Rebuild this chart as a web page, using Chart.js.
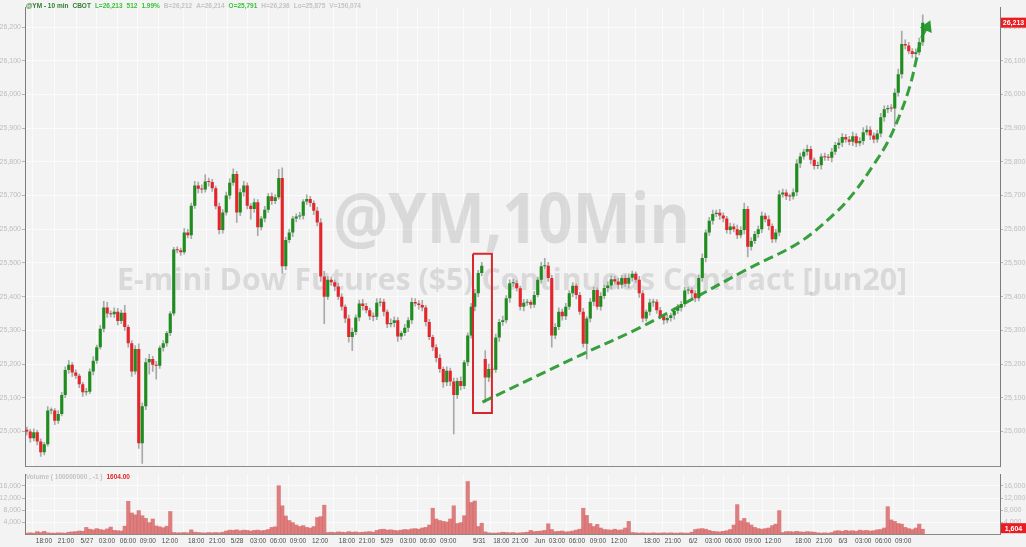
<!DOCTYPE html>
<html>
<head>
<meta charset="utf-8">
<script src="https://cdn.jsdelivr.net/npm/chart.js@4.4.1/dist/chart.umd.min.js"></script>
<style>
  html, body { margin: 0; padding: 0; background: #f3f3f3; }
  #wrap { position: relative; width: 1026px; height: 547px; overflow: hidden; background: #f3f3f3;
          font-family: "Liberation Sans", Arial, sans-serif; }
  #price { position: absolute; left: 0; top: 0; }
  #volume { position: absolute; left: 0; top: 474px; }
  .row { position: absolute; left: 26px; font-size: 6.5px; font-weight: bold; white-space: nowrap;
         line-height: 8px; }
  .row span { margin-right: 4px; }
</style>
</head>
<body>
<div id="wrap">
  <canvas id="price" width="1026" height="474"></canvas>
  <canvas id="volume" width="1026" height="73"></canvas>
  <div id="header" class="row" style="top:2px"></div>
  <div id="volcap" class="row" style="top:473px"></div>
</div>
<script>
// 10-min YM candles, resampled to ~30 min slots
const firstOpen = 25005;
const closes = [
  25000, 24980, 24998, 24970, 24938, 24962, 25062, 25062, 25032, 25052,
  25108, 25182, 25198, 25175, 25165, 25140, 25116, 25118, 25178, 25210,
  25250, 25305, 25368, 25350, 25348, 25355, 25328, 25352, 25310, 25262,
  25178, 25245, 24965, 25075, 25205, 25215, 25198, 25195, 25248, 25262,
  25292, 25350, 25540, 25538, 25532, 25590, 25582, 25670, 25730, 25720,
  25718, 25742, 25740, 25722, 25668, 25598, 25650, 25700, 25738, 25764,
  25650, 25710, 25730, 25670, 25660, 25680, 25606, 25632, 25658, 25698,
  25684, 25695, 25752, 25490, 25568, 25590, 25632, 25638, 25640, 25682,
  25690, 25678, 25655, 25620, 25460, 25400, 25450, 25443, 25430, 25400,
  25370, 25335, 25280, 25295, 25338, 25380, 25372, 25360, 25342, 25340,
  25382, 25385, 25355, 25318, 25322, 25330, 25282, 25292, 25308, 25330,
  25384, 25380, 25375, 25368, 25325, 25280, 25250, 25218, 25185, 25146,
  25180, 25148, 25108, 25150, 25135, 25205, 25285, 25370, 25410, 25470,
  25492, 25160, 25185, 25183, 25279, 25325, 25330, 25395, 25440, 25440,
  25425, 25370, 25382, 25384, 25376, 25405, 25450, 25490, 25492, 25455,
  25285, 25310, 25355, 25342, 25370, 25410, 25432, 25405, 25355, 25260,
  25335, 25385, 25420, 25370, 25402, 25426, 25433, 25452, 25445, 25435,
  25455, 25438, 25456, 25468, 25450, 25410, 25335, 25355, 25383, 25385,
  25360, 25342, 25330, 25337, 25345, 25358, 25367, 25378, 25418, 25420,
  25410, 25395, 25455, 25515, 25590, 25625, 25645, 25649, 25641, 25632,
  25598, 25608, 25600, 25582, 25598, 25660, 25548, 25565, 25586, 25600,
  25640, 25630, 25610, 25570, 25590, 25703, 25709, 25698, 25697, 25710,
  25795, 25816, 25830, 25838, 25806, 25788, 25790, 25816, 25814, 25812,
  25830, 25850, 25857, 25874, 25866, 25860, 25876, 25855, 25862, 25888,
  25895, 25878, 25866, 25884, 25932, 25956, 25960, 25958, 26005, 26060,
  26150, 26145, 26128, 26120, 26125, 26155, 26213
];
// weekend gap: [slot, open]
const sessionGaps = [[131, 25215]];
const wickUp = [
  8, 6, 10, 5, 8, 6, 12, 8, 6, 10,
  8, 10, 12, 6, 8, 5, 6, 10, 8, 12,
  6, 10, 18, 15, 8, 12, 10, 8, 22, 6,
  8, 10, 15, 10, 12, 14, 8, 10, 6, 8,
  5, 6, 6, 8, 6, 12, 10, 8, 12, 10,
  12, 20, 10, 8, 6, 10, 8, 10, 12, 15,
  8, 10, 12, 8, 6, 10, 8, 6, 10, 8,
  10, 8, 25, 30, 8, 10, 6, 8, 10, 6,
  12, 8, 6, 10, 12, 15, 10, 8, 6, 10,
  8, 6, 10, 12, 8, 10, 12, 8, 6, 10,
  12, 10, 8, 6, 12, 10, 8, 6, 10, 8,
  12, 10, 8, 14, 6, 8, 6, 8, 10, 6,
  12, 8, 10, 8, 12, 6, 8, 10, 12, 8,
  10, 25, 15, 8, 10, 8, 12, 8, 10, 12,
  8, 6, 10, 8, 6, 10, 8, 12, 22, 10,
  8, 10, 12, 8, 10, 8, 10, 6, 8, 10,
  6, 10, 8, 6, 10, 8, 12, 10, 8, 10,
  8, 10, 12, 8, 6, 10, 8, 6, 10, 8,
  6, 8, 6, 8, 6, 8, 10, 8, 10, 8,
  6, 8, 10, 12, 8, 10, 12, 8, 10, 8,
  6, 10, 8, 12, 10, 18, 8, 10, 8, 10,
  12, 8, 10, 6, 10, 12, 10, 8, 6, 10,
  12, 10, 8, 12, 8, 6, 10, 8, 10, 8,
  10, 8, 12, 10, 8, 10, 12, 8, 10, 14,
  12, 10, 8, 10, 12, 10, 8, 10, 12, 15,
  38, 12, 10, 8, 10, 12, 23
];
const wickDown = [
  10, 12, 8, 10, 12, 8, 6, 10, 12, 8,
  6, 8, 10, 12, 8, 10, 12, 8, 6, 10,
  8, 6, 10, 12, 8, 10, 12, 8, 10, 12,
  15, 8, 15, 60, 10, 35, 20, 40, 8, 10,
  10, 8, 6, 8, 10, 6, 8, 10, 8, 12,
  10, 8, 12, 10, 8, 12, 10, 8, 10, 8,
  30, 10, 12, 10, 30, 10, 25, 8, 10, 8,
  10, 8, 6, 20, 10, 8, 12, 10, 8, 10,
  8, 10, 12, 10, 15, 80, 8, 10, 12, 8,
  10, 12, 15, 40, 8, 10, 12, 8, 10, 12,
  8, 10, 12, 10, 8, 12, 15, 10, 8, 12,
  10, 8, 12, 10, 12, 8, 10, 12, 10, 15,
  10, 12, 115, 10, 12, 8, 10, 8, 12, 10,
  8, 73, 12, 10, 8, 12, 10, 8, 12, 10,
  8, 10, 12, 8, 10, 8, 6, 10, 8, 10,
  35, 10, 8, 12, 10, 8, 10, 12, 8, 10,
  45, 10, 12, 8, 10, 8, 12, 10, 8, 12,
  10, 8, 12, 10, 8, 12, 10, 8, 10, 12,
  10, 8, 12, 8, 10, 12, 8, 10, 8, 10,
  12, 10, 8, 10, 12, 8, 10, 8, 12, 10,
  10, 12, 8, 10, 8, 12, 30, 10, 8, 10,
  10, 8, 12, 10, 8, 10, 8, 10, 12, 8,
  10, 12, 8, 10, 12, 10, 8, 12, 10, 8,
  12, 8, 10, 12, 8, 10, 12, 10, 8, 10,
  8, 12, 10, 8, 10, 12, 10, 8, 53, 10,
  12, 10, 8, 10, 12, 8, 10
];
const volumes = [
  300, 400, 300, 800, 500, 900, 400, 300, 300, 400,
  350, 300, 600, 700, 800, 1000, 900, 2200, 1600, 1400,
  1800, 1500, 1300, 1700, 2300, 1200, 1100, 1000, 2600, 10900,
  7000, 6400, 7800, 6100, 5200, 3800, 5000, 2700, 2400, 2100,
  2600, 7500, 500, 400, 400, 500, 400, 1400, 600, 500,
  400, 350, 500, 400, 500, 400, 600, 1000, 1300, 1200,
  1400, 1100, 1300, 1200, 1000, 1200, 1300, 1100, 1200, 1500,
  2200, 2400, 16100, 9400, 6000, 4500, 3800, 3000, 2500, 2800,
  2200, 2000, 2500, 5500, 5800, 9600, 500, 600, 500, 700,
  600, 500, 800, 600, 700, 500, 600, 700, 800, 600,
  1200, 1500, 1600, 1300, 1400, 1200, 1100, 1300, 1500, 1400,
  1700, 1800, 1600, 2000, 2200, 3000, 8600, 5000, 4500, 4200,
  4000, 5000, 9400, 3500, 3800, 6100, 17500, 10500, 11000, 2500,
  3600, 700, 400, 300, 300, 400, 600, 500, 400, 500,
  300, 400, 500, 600, 1200, 800, 900, 1000, 1200, 3400,
  1500, 800, 900, 1000, 700, 800, 1000, 1300, 1600, 8600,
  6200, 3500, 2500, 3200, 2000, 1500, 1400, 1300, 1600, 1300,
  1400, 2000, 4200, 500, 400, 300, 400, 300, 300, 400,
  300, 300, 400, 300, 400, 300, 300, 400, 300, 300,
  600, 1500, 1700, 1800, 1600, 1200, 900, 800, 700, 900,
  1100, 1500, 3000, 9800, 4400, 5200, 3800, 3000, 2200, 1800,
  1600, 1800, 2000, 2800, 3300, 7800, 500, 800, 800, 700,
  900, 700, 600, 800, 700, 600, 400, 300, 400, 300,
  500, 1000, 1100, 900, 1200, 1000, 1100, 900, 1300, 1100,
  1200, 1000, 1100, 1400, 1500, 2000, 9100, 4700, 4200, 3500,
  3300, 2200, 1800, 1500, 2000, 3300, 1604
];

// x axis time labels and their slot positions
const tickLabels = ['18:00','21:00','5/27','03:00','06:00','09:00','12:00',
  '18:00','21:00','5/28','03:00','06:00','09:00','12:00',
  '18:00','21:00','5/29','03:00','06:00','09:00',
  '5/31','18:00','21:00','Jun','03:00','06:00','09:00','12:00',
  '18:00','21:00','6/2','03:00','06:00','09:00','12:00',
  '18:00','21:00','6/3','03:00','06:00','09:00'];
const tickSlots = [4.9, 11.2, 17.2, 22.9, 28.9, 34.6, 40.9,
  48.4, 54.4, 60.1, 66.1, 71.8, 77.5, 83.8,
  91.5, 97.2, 102.9, 108.9, 114.6, 120.4,
  129.3, 135.6, 141, 146.6, 151.5, 157.2, 163.2, 169.2,
  178.6, 184.6, 190.4, 196.1, 201.8, 207.5, 213.2,
  221.8, 227.8, 233.2, 239, 244.7, 250.4];
const priceTicks = [25000, 25100, 25200, 25300, 25400, 25500, 25600, 25700, 25800, 25900, 26000, 26100, 26200];
const volumeTicks = [4000, 8000, 12000, 16000];

// annotations (drawn on the chart by the author)
const trendSlots  = [130.2, 158.1, 175.2, 190.4, 205.8, 220.9, 231.5, 237.2, 241.8, 245.8, 249.5, 252.4, 254.4, 255.8, 257.3];
const trendPrices = [25087, 25226, 25308, 25394, 25481, 25562, 25653, 25720, 25789, 25855, 25941, 26027, 26114, 26171, 26200];
const boxSlots  = [127.5, 132.9, 132.9, 127.5, 127.5];
const boxPrices = [25527, 25527, 25055, 25055, 25527];

const headerParts = [
  ['@YM - 10 min', '#2f7d2f'], ['CBOT', '#2f7d2f'],
  ['L=26,213', '#39c439'], ['512', '#39c439'], ['1.99%', '#39c439'],
  ['B=26,212', '#c4c4c4'], ['A=26,214', '#c4c4c4'],
  ['O=25,791', '#39c439'], ['H=26,236', '#c4c4c4'],
  ['Lo=25,875', '#c4c4c4'], ['V=150,074', '#c4c4c4']
];
const volumeCaption = [['Volume ( 100000000 , -1 )', '#c2c2c2'], ['1604.00', '#e0262b']];

Chart.defaults.font.family = '"Liberation Sans", Arial, sans-serif';
Chart.defaults.font.size = 7;
Chart.defaults.animation = false;

// build candle pieces
const gapOpen = {};
sessionGaps.forEach(g => { gapOpen[g[0]] = g[1]; });
const bodies = [], wicks = [], bodyColors = [];
closes.forEach((c, i) => {
  const o = gapOpen[i] !== undefined ? gapOpen[i] : (i === 0 ? firstOpen : closes[i - 1]);
  bodies.push({ x: i, y: [o, c] });
  wicks.push({ x: i, y: [Math.min(o, c) - wickDown[i], Math.max(o, c) + wickUp[i]] });
  bodyColors.push(c >= o ? '#1e8c1e' : '#e3262b');
});

const xMin = -0.5, xMax = 278.07;
const gridColor = '#fbfbfb';

function fixWidth(w) {
  return s => { s.width = w; s.paddingTop = 0; s.paddingBottom = 0; };
}
function fixHeight(h) {
  return s => { s.height = h; s.paddingLeft = 0; s.paddingRight = 0; };
}
function fmt(v) { return Number(v).toLocaleString('en-US'); }

function tag(ctx, x, y, text) {
  ctx.save();
  ctx.fillStyle = '#ea1c22';
  ctx.fillRect(x, y - 5, 25, 10);
  ctx.fillStyle = '#ffffff';
  ctx.font = 'bold 7px "Liberation Sans", Arial';
  ctx.textAlign = 'center';
  ctx.textBaseline = 'middle';
  ctx.fillText(text, x + 12.5, y + 0.5);
  ctx.restore();
}

function drawFitText(ctx, text, x, baseline, width, capH) {
  ctx.save();
  ctx.font = 'bold ' + (capH / 0.72).toFixed(1) + 'px "Open Sans", sans-serif';
  const w = ctx.measureText(text).width;
  ctx.translate(x, baseline);
  ctx.scale(width / w, 1);
  ctx.textBaseline = 'alphabetic';
  ctx.fillText(text, 0, 0);
  ctx.restore();
}

const priceOverlay = {
  id: 'priceOverlay',
  beforeDatasetsDraw(chart) {
    const ctx = chart.ctx;
    ctx.save();
    ctx.fillStyle = 'rgba(160,160,160,0.3)';
    drawFitText(ctx, '@YM,10Min', 333, 243, 357, 50);
    drawFitText(ctx, 'E-mini Dow Futures ($5) Continuous Contract [Jun20]', 117, 290, 790, 22);
    ctx.restore();
  },
  afterDraw(chart) {
    const y = chart.scales.y.getPixelForValue(closes[closes.length - 1]);
    tag(chart.ctx, chart.chartArea.right + 1, y, fmt(closes[closes.length - 1]));
  }
};

const volumeOverlay = {
  id: 'volumeOverlay',
  afterDraw(chart) {
    const v = volumes[volumes.length - 1];
    const y = chart.scales.y.getPixelForValue(v);
    tag(chart.ctx, chart.chartArea.right + 1, y - 1, fmt(v));
  }
};

const yCommon = {
  min: 24896, max: 26258,
  afterBuildTicks: s => { s.ticks = priceTicks.map(v => ({ value: v })); },
  ticks: { color: '#bdbdbd', padding: 1, callback: v => fmt(v) },
  border: { color: '#7c7c7c' }
};

new Chart(document.getElementById('price'), {
  type: 'bar',
  data: {
    datasets: [
      {
        type: 'line', data: trendSlots.map((x, i) => ({ x: x, y: trendPrices[i] })),
        borderColor: 'rgba(34,150,40,0.9)', borderWidth: 3, borderDash: [10, 5],
        tension: 0.35, fill: false, order: 0,
        pointRadius: trendSlots.map((x, i) => i === trendSlots.length - 1 ? 7.5 : 0),
        pointStyle: 'triangle', pointRotation: 24,
        pointBackgroundColor: 'rgba(34,150,40,0.95)', pointBorderWidth: 0
      },
      {
        type: 'line', data: boxSlots.map((x, i) => ({ x: x, y: boxPrices[i] })),
        borderColor: '#d8262c', borderWidth: 2, pointRadius: 0, tension: 0, fill: false, order: 0
      },
      {
        data: bodies, backgroundColor: bodyColors, grouped: false,
        barPercentage: 0.9, categoryPercentage: 1, minBarLength: 1, order: 1
      },
      {
        data: wicks, backgroundColor: '#a9a9a9', grouped: false,
        barThickness: 1, order: 2
      }
    ]
  },
  options: {
    responsive: false,
    maintainAspectRatio: false,
    layout: { padding: 0 },
    plugins: { legend: { display: false }, tooltip: { enabled: false } },
    scales: {
      x: {
        type: 'linear', min: xMin, max: xMax, offset: false,
        afterBuildTicks: s => { s.ticks = tickSlots.map(v => ({ value: v })); },
        ticks: { display: false },
        grid: { color: gridColor, drawTicks: false },
        border: { color: '#8a8a8a' },
        afterFit: fixHeight(1)
      },
      y: Object.assign({}, yCommon, {
        position: 'left',
        grid: { color: gridColor, tickLength: 3, tickColor: '#b5b5b5' },
        afterFit: fixWidth(25)
      }),
      y2: Object.assign({}, yCommon, {
        position: 'right',
        grid: { drawOnChartArea: false, tickLength: 3, tickColor: '#b5b5b5' },
        afterFit: fixWidth(26)
      })
    }
  },
  plugins: [priceOverlay]
});

const vCommon = {
  min: 0, max: 20000,
  afterBuildTicks: s => { s.ticks = volumeTicks.map(v => ({ value: v })); },
  ticks: { color: '#bdbdbd', padding: 1, callback: v => fmt(v) },
  border: { color: '#7c7c7c' }
};

new Chart(document.getElementById('volume'), {
  type: 'bar',
  data: {
    datasets: [{
      data: volumes.map((v, i) => ({ x: i, y: v })),
      backgroundColor: 'rgba(214,92,92,0.78)',
      barPercentage: 1, categoryPercentage: 1
    }]
  },
  options: {
    responsive: false,
    maintainAspectRatio: false,
    layout: { padding: 0 },
    plugins: { legend: { display: false }, tooltip: { enabled: false } },
    scales: {
      x: {
        type: 'linear', min: xMin, max: xMax, offset: false,
        afterBuildTicks: s => { s.ticks = tickSlots.map(v => ({ value: v })); },
        ticks: {
          color: '#4a4a4a', padding: 3, autoSkip: false, maxRotation: 0,
          font: { size: 6.5 },
          callback: (v, i) => tickLabels[i]
        },
        grid: { color: gridColor, drawTicks: false },
        border: { color: '#8a8a8a' },
        afterFit: fixHeight(13)
      },
      y: Object.assign({}, vCommon, {
        position: 'left',
        grid: { color: gridColor, tickLength: 3, tickColor: '#b5b5b5' },
        afterFit: fixWidth(25)
      }),
      y2: Object.assign({}, vCommon, {
        position: 'right',
        grid: { drawOnChartArea: false, tickLength: 3, tickColor: '#b5b5b5' },
        afterFit: fixWidth(26)
      })
    }
  },
  plugins: [volumeOverlay]
});

// header and volume caption as plain text
function fillRow(id, parts) {
  const row = document.getElementById(id);
  parts.forEach(p => {
    const s = document.createElement('span');
    s.style.color = p[1];
    s.textContent = p[0];
    row.appendChild(s);
  });
}
fillRow('header', headerParts);
fillRow('volcap', volumeCaption);
</script>
</body>
</html>
